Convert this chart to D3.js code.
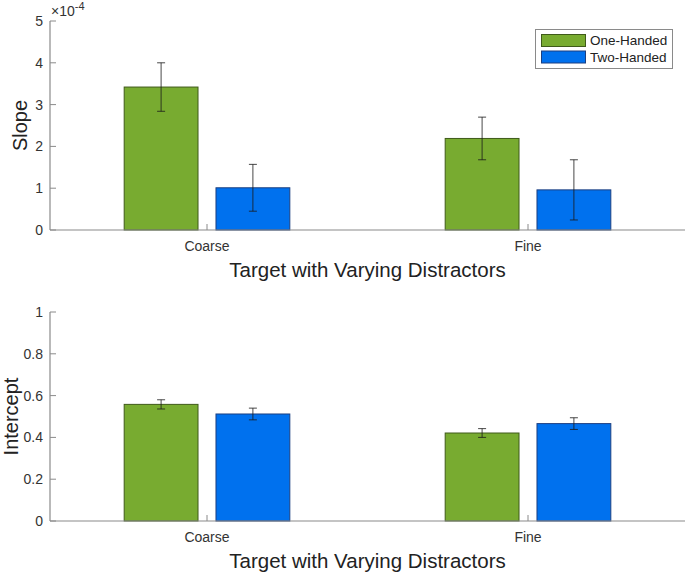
<!DOCTYPE html>
<html><head><meta charset="utf-8">
<script src="https://cdn.jsdelivr.net/npm/d3@7"></script>
<style>body{margin:0;background:#fff}svg{display:block}text{font-family:"Liberation Sans",Arial,sans-serif}</style>
</head><body>
<svg id="c" width="685" height="572"></svg>
<script>
const categories = ["Coarse", "Fine"];
const seriesNames = ["One-Handed", "Two-Handed"];
// Slope (x 1e-4)
const slopeOne = [3.42, 2.19];
const slopeTwo = [1.01, 0.96];
const slopeOneErr = [0.58, 0.51];
const slopeTwoErr = [0.56, 0.72];
// Intercept
const interceptOne = [0.558, 0.421];
const interceptTwo = [0.512, 0.466];
const interceptOneErr = [0.022, 0.021];
const interceptTwoErr = [0.028, 0.028];
const slopeTicks = [0, 1, 2, 3, 4, 5];
const interceptTicks = [0, 0.2, 0.4, 0.6, 0.8, 1];
const xLabel = "Target with Varying Distractors";

const colors = ["#78ab30", "#0071ee"];
const edges = ["#3f5a1a", "#1c3f80"];
const svg = d3.select("#c");
const axisCol = "#8a8a8a";

const x = d3.scaleLinear().domain([1, 2]).range([207, 528]);
const xLeft = 50, xRight = 685;
const offset = 0.143, bw = 0.23;

function panel(top, bottom, dom, ticks, fmt, one, two, oneErr, twoErr, ylab, tickLabY, xLabY, ylabX, showExp, showLegend) {
  const y = d3.scaleLinear().domain(dom).range([bottom, top]);
  const g = svg.append("g");
  const series = [one, two], errs = [oneErr, twoErr];
  series.forEach((vals, s) => {
    vals.forEach((v, i) => {
      const cx = x(i + 1) + (s === 0 ? -1 : 1) * (x(1 + offset) - x(1));
      const w = x(1 + bw) - x(1);
      g.append("rect").attr("x", cx - w / 2).attr("y", y(v)).attr("width", w).attr("height", y(0) - y(v))
        .attr("fill", colors[s]).attr("stroke", edges[s]).attr("stroke-width", 1);
    });
  });
  // axes
  g.append("line").attr("x1", xLeft).attr("x2", xRight).attr("y1", y(0)).attr("y2", y(0)).attr("stroke", axisCol).attr("stroke-width", 1.2);
  g.append("line").attr("x1", xLeft).attr("x2", xLeft).attr("y1", y(dom[1])).attr("y2", y(0)).attr("stroke", axisCol).attr("stroke-width", 1.2);
  ticks.forEach(t => {
    g.append("line").attr("x1", xLeft).attr("x2", xLeft + 6).attr("y1", y(t)).attr("y2", y(t)).attr("stroke", axisCol);
    g.append("text").attr("x", xLeft - 7).attr("y", y(t)).attr("dy", "0.35em").attr("text-anchor", "end")
      .attr("font-size", 14).attr("fill", "#333").text(fmt(t));
  });
  categories.forEach((c, i) => {
    g.append("line").attr("x1", x(i + 1)).attr("x2", x(i + 1)).attr("y1", y(0)).attr("y2", y(0) - 6).attr("stroke", axisCol);
    g.append("text").attr("x", x(i + 1)).attr("y", tickLabY).attr("text-anchor", "middle")
      .attr("font-size", 14).attr("fill", "#333").text(c);
  });
  // error bars
  series.forEach((vals, s) => {
    vals.forEach((v, i) => {
      const cx = x(i + 1) + (s === 0 ? -1 : 1) * (x(1 + offset) - x(1));
      const e = errs[s][i];
      const eg = g.append("g").attr("stroke", "#1a1a1a").attr("stroke-opacity", 0.8).attr("stroke-width", 1);
      eg.append("line").attr("x1", cx).attr("x2", cx).attr("y1", y(v + e)).attr("y2", y(v - e));
      eg.append("line").attr("x1", cx - 4).attr("x2", cx + 4).attr("y1", y(v + e)).attr("y2", y(v + e));
      eg.append("line").attr("x1", cx - 4).attr("x2", cx + 4).attr("y1", y(v - e)).attr("y2", y(v - e));
    });
  });
  g.append("text").attr("x", (xLeft + xRight) / 2).attr("y", xLabY).attr("text-anchor", "middle")
    .attr("font-size", 20.5).attr("fill", "#222").text(xLabel);
  g.append("text").attr("transform", `translate(${ylabX},${(top + bottom) / 2}) rotate(-90)`)
    .attr("text-anchor", "middle").attr("dy", "0.35em").attr("font-size", 20).attr("fill", "#222").text(ylab);
  if (showExp) {
    const t = g.append("text").attr("x", 51).attr("y", 16).attr("font-size", 14).attr("fill", "#333");
    t.append("tspan").text("\u00d710");
    t.append("tspan").attr("font-size", 11).attr("dy", -6).text("-4");
  }
  if (showLegend) {
    const lg = g.append("g");
    lg.append("rect").attr("x", 535.5).attr("y", 29.5).attr("width", 137).attr("height", 39)
      .attr("fill", "#fff").attr("stroke", "#8a8a8a");
    seriesNames.forEach((n, s) => {
      const yy = 34.5 + s * 16.5;
      lg.append("rect").attr("x", 541.5).attr("y", yy).attr("width", 44).attr("height", 12)
        .attr("fill", colors[s]).attr("stroke", edges[s]);
      lg.append("text").attr("x", 590).attr("y", yy + 6).attr("dy", "0.35em").attr("font-size", 13.5)
        .attr("fill", "#222").text(n);
    });
  }
}

panel(21, 230, [0, 5], slopeTicks, d => d3.format("d")(d), slopeOne, slopeTwo, slopeOneErr, slopeTwoErr,
  "Slope", 251, 277, 20, true, true);
panel(312, 521, [0, 1], interceptTicks, d => (d === 0 || d === 1) ? String(d) : d3.format(".1f")(d),
  interceptOne, interceptTwo, interceptOneErr, interceptTwoErr, "Intercept", 542, 568, 11, false, false);
</script>
</body></html>
